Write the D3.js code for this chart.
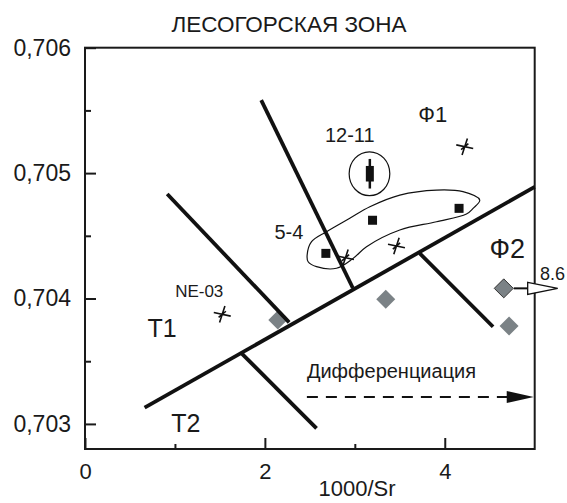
<!DOCTYPE html>
<html>
<head>
<meta charset="utf-8">
<script src="https://cdn.jsdelivr.net/npm/d3@7"></script>
<style>
  body { margin: 0; background: #fff; }
  svg { font-family: "Liberation Sans", Arial, sans-serif; }
</style>
</head>
<body>
<div id="chart"></div>
<script>
// size of the picture
var width = 567, height = 503;
var margin = {top: 47.7, right: 32, bottom: 54, left: 85};

// axis ticks
var xMajor = [0, 2, 4];
var xMinor = [1, 3];
var yMajor = [0.703, 0.704, 0.705, 0.706];
var yMinor = [0.7035, 0.7045, 0.7055];

// boundary lines [x1, y1, x2, y2]
var boundaries = [
  [0.663, 0.70313, 5.0, 0.70489],   // main line
  [0.914, 0.704833, 2.27, 0.70381],
  [1.959, 0.705582, 2.978, 0.704084],
  [1.730, 0.703571, 2.574, 0.702965],
  [3.722, 0.70436, 4.537, 0.703775]
];

// black squares (group 5-4)
var squares = [[2.678, 0.70436], [3.197, 0.704624], [4.159, 0.704719]];
// sample 12-11: value with spread
var bar = {x: 3.167, y: 0.704995, box: 0.000062, whisker: 0.000118};
// stars
var stars = [[4.222, 0.705211], [3.463, 0.704419], [2.896, 0.704325], [1.526, 0.703874]];
// grey diamonds
var diamonds = [[2.144, 0.703828], [3.344, 0.703994], [4.656, 0.704081], [4.715, 0.703781]];
var outlier = {x: 4.656, y: 0.704081, label: "8.6"};

// outline of group 5-4
var outline54 = [
  [2.470, 0.704347], [2.519, 0.704453], [2.686, 0.704533], [2.944, 0.70464],
  [3.167, 0.704732], [3.5, 0.704825], [3.908, 0.704865], [4.203, 0.704852],
  [4.389, 0.704785], [4.315, 0.704719], [4.241, 0.704674], [3.908, 0.704612],
  [3.5, 0.704546], [3.130, 0.704413], [2.981, 0.70432], [2.796, 0.704241],
  [2.574, 0.704254], [2.481, 0.704293]
];
var ellipse1211 = {x: 3.163, y: 0.704995, rx: 0.226, ry: 0.000175};

// texts in the plot
var labels = [
  {t: "Ф1", x: 3.867, y: 0.70541, s: 22},
  {t: "12-11", x: 2.944, y: 0.70525, s: 20},
  {t: "5-4", x: 2.267, y: 0.704472, s: 20},
  {t: "Ф2", x: 4.694, y: 0.70432, s: 27},
  {t: "NE-03", x: 1.27, y: 0.704014, s: 17},
  {t: "T1", x: 0.856, y: 0.703695, s: 25},
  {t: "T2", x: 1.122, y: 0.702938, s: 25}
];
var trend = {t: "Дифференциация", x1: 2.467, x2: 4.989, y: 0.703215, ty: 0.703364};

var svg = d3.select("#chart").append("svg")
  .attr("width", width).attr("height", height);

var x = d3.scaleLinear().domain([0, 5]).range([margin.left, width - margin.right - 0.3]);
var y = d3.scaleLinear().domain([0.7028, 0.706]).range([height - margin.bottom, margin.top]);

var fmtY = function(d) { return d3.format(".3f")(d).replace(".", ","); };

// title
svg.append("text")
  .attr("x", 289).attr("y", 32)
  .attr("text-anchor", "middle")
  .attr("font-size", 22.5)
  .attr("fill", "#1a1a1a")
  .text("ЛЕСОГОРСКАЯ ЗОНА");

// ticks pointing inward
var yb = height - margin.bottom;
svg.append("g").attr("transform", "translate(0," + yb + ")")
  .call(d3.axisTop(x).tickValues(xMajor).tickSize(11).tickFormat(""));
svg.append("g").attr("transform", "translate(0," + yb + ")")
  .call(d3.axisTop(x).tickValues(xMinor).tickSize(5).tickFormat(""));
svg.append("g").attr("transform", "translate(" + margin.left + ",0)")
  .call(d3.axisRight(y).tickValues(yMajor).tickSize(11).tickFormat(""));
svg.append("g").attr("transform", "translate(" + margin.left + ",0)")
  .call(d3.axisRight(y).tickValues(yMinor).tickSize(6).tickFormat(""));
svg.selectAll(".domain").remove();
svg.selectAll(".tick line").attr("stroke", "#1a1a1a").attr("stroke-width", 2);

// tick labels
svg.append("g").attr("transform", "translate(0," + yb + ")")
  .call(d3.axisBottom(x).tickValues(xMajor).tickSize(0).tickPadding(14).tickFormat(d3.format("d")))
  .call(g => g.select(".domain").remove())
  .selectAll("text").attr("font-size", 22).attr("fill", "#1a1a1a")
  .attr("font-family", "Liberation Sans, Arial, sans-serif");
svg.append("g").attr("transform", "translate(71,0)")
  .call(d3.axisLeft(y).tickValues(yMajor).tickSize(0).tickPadding(0).tickFormat(fmtY))
  .call(g => g.select(".domain").remove())
  .selectAll("text").attr("font-size", 23).attr("fill", "#1a1a1a")
  .attr("font-family", "Liberation Sans, Arial, sans-serif");

// axis title
svg.append("text")
  .attr("x", 357).attr("y", 496)
  .attr("text-anchor", "middle")
  .attr("font-size", 22)
  .attr("fill", "#1a1a1a")
  .text("1000/Sr");

// frame
svg.append("rect")
  .attr("x", x(0)).attr("y", y(0.706))
  .attr("width", x(5) - x(0)).attr("height", y(0.7028) - y(0.706))
  .attr("fill", "none").attr("stroke", "#1a1a1a").attr("stroke-width", 2);

// grey diamonds (drawn before lines, one sits under a line)
var diamond = d3.symbol().type(d3.symbolDiamond2).size(230);
svg.append("g").selectAll("path")
  .data(diamonds)
  .join("path")
  .attr("transform", d => "translate(" + x(d[0]) + "," + y(d[1]) + ")")
  .attr("d", diamond)
  .attr("fill", "#7b8286")
  .attr("stroke", (d, i) => i == 2 ? "#333" : "none")
  .attr("stroke-width", 1);

// boundary lines
svg.append("g").selectAll("line")
  .data(boundaries)
  .join("line")
  .attr("x1", d => x(d[0])).attr("y1", d => y(d[1]))
  .attr("x2", d => x(d[2])).attr("y2", d => y(d[3]))
  .attr("stroke", "#111").attr("stroke-width", 3.8)
  .attr("stroke-linecap", "butt");

// outlines
svg.append("path")
  .datum(outline54)
  .attr("d", d3.line().x(d => x(d[0])).y(d => y(d[1])).curve(d3.curveCatmullRomClosed))
  .attr("fill", "none").attr("stroke", "#111").attr("stroke-width", 1.2);
svg.append("ellipse")
  .attr("cx", x(ellipse1211.x)).attr("cy", y(ellipse1211.y))
  .attr("rx", x(ellipse1211.rx) - x(0)).attr("ry", y(0.705) - y(0.705 + ellipse1211.ry))
  .attr("fill", "none").attr("stroke", "#111").attr("stroke-width", 1.2);

// squares
var sq = 9;
svg.append("g").selectAll("rect")
  .data(squares)
  .join("rect")
  .attr("x", d => x(d[0]) - sq / 2).attr("y", d => y(d[1]) - sq / 2)
  .attr("width", sq).attr("height", sq)
  .attr("fill", "#111");

// 12-11 bar
svg.append("line")
  .attr("x1", x(bar.x)).attr("x2", x(bar.x))
  .attr("y1", y(bar.y + bar.whisker)).attr("y2", y(bar.y - bar.whisker))
  .attr("stroke", "#111").attr("stroke-width", 2.5);
svg.append("rect")
  .attr("x", x(bar.x) - 4).attr("width", 8)
  .attr("y", y(bar.y + bar.box)).attr("height", y(bar.y - bar.box) - y(bar.y + bar.box))
  .attr("fill", "#111");

// stars
var starType = {
  draw: function(ctx, size) {
    var r = Math.sqrt(size) / 2;
    [-12, 72, 40].forEach(function(a, i) {
      var rr = i == 2 ? r * 0.55 : r;
      var t = a * Math.PI / 180;
      ctx.moveTo(rr * Math.cos(t), -rr * Math.sin(t));
      ctx.lineTo(-rr * Math.cos(t), rr * Math.sin(t));
    });
  }
};
svg.append("g").selectAll("path")
  .data(stars)
  .join("path")
  .attr("transform", d => "translate(" + x(d[0]) + "," + y(d[1]) + ")")
  .attr("d", d3.symbol().type(starType).size(300))
  .attr("fill", "none").attr("stroke", "#111").attr("stroke-width", 1.6);

// arrow of the off-scale diamond
var ox = x(outlier.x), oy = y(outlier.y);
svg.append("line")
  .attr("x1", ox + 10).attr("x2", x(4.93)).attr("y1", oy).attr("y2", oy)
  .attr("stroke", "#111").attr("stroke-width", 2);
svg.append("path")
  .attr("d", "M" + x(4.922) + "," + (oy - 6) + "L" + x(5.256) + "," + oy + "L" + x(4.922) + "," + (oy + 6) + "Z")
  .attr("fill", "#fff").attr("stroke", "#111").attr("stroke-width", 1.3);
svg.append("text")
  .attr("x", x(5.06)).attr("y", oy - 8)
  .attr("font-size", 18).attr("fill", "#1a1a1a")
  .text(outlier.label);

// region labels
svg.append("g").selectAll("text")
  .data(labels)
  .join("text")
  .attr("x", d => x(d.x)).attr("y", d => y(d.y))
  .attr("text-anchor", "middle")
  .attr("font-size", d => d.s)
  .attr("fill", "#1a1a1a")
  .text(d => d.t);

// differentiation trend
svg.append("text")
  .attr("x", x(trend.x1)).attr("y", y(trend.ty))
  .attr("font-size", 20).attr("fill", "#1a1a1a")
  .text(trend.t);
var ty = y(trend.y);
svg.append("line")
  .attr("x1", x(trend.x1)).attr("x2", x(4.7)).attr("y1", ty).attr("y2", ty)
  .attr("stroke", "#111").attr("stroke-width", 2).attr("stroke-dasharray", "11,8");
svg.append("path")
  .attr("d", "M" + x(4.689) + "," + (ty - 6) + "L" + x(trend.x2) + "," + ty + "L" + x(4.689) + "," + (ty + 6) + "Z")
  .attr("fill", "#111");
</script>
</body>
</html>
